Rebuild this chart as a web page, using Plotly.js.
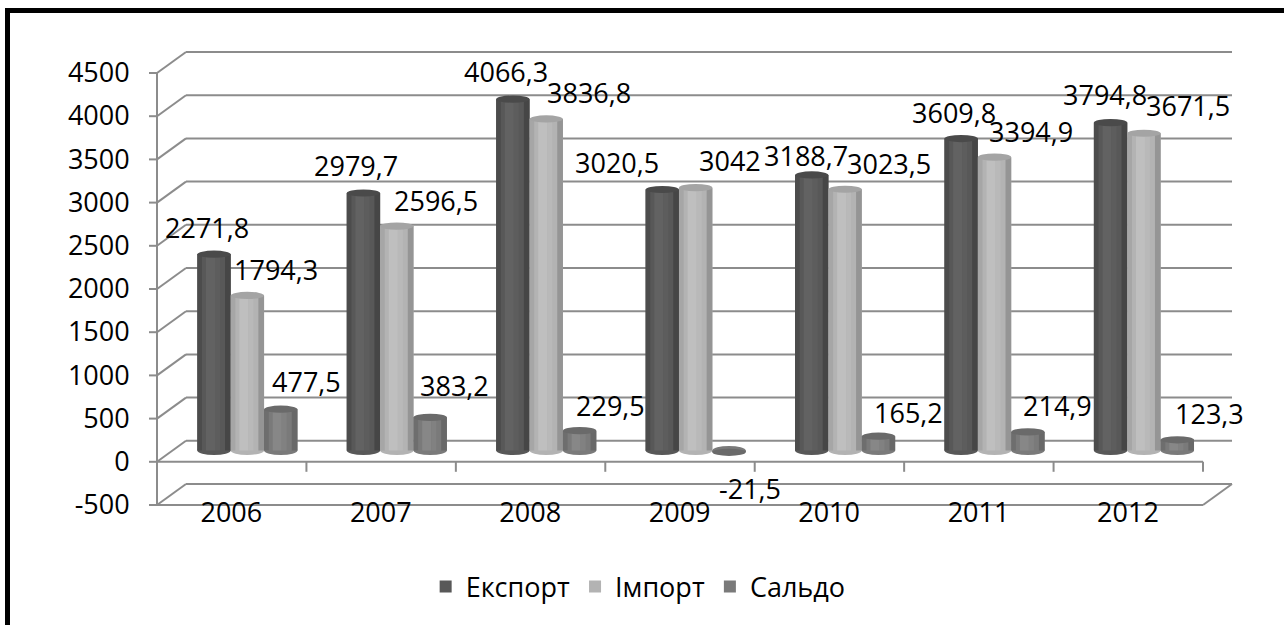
<!DOCTYPE html>
<html>
<head>
<meta charset="utf-8">
<script src="https://cdn.plot.ly/plotly-3.0.1.min.js"></script>
<style>
  html, body { margin: 0; padding: 0; background: #ffffff; }
  #chart { width: 1284px; height: 625px; }
</style>
</head>
<body>
<div id="chart"></div>
<script>
// ---------------- data ----------------
const years = ['2006', '2007', '2008', '2009', '2010', '2011', '2012'];
const exportVals = [2271.8, 2979.7, 4066.3, 3020.5, 3188.7, 3609.8, 3794.8];
const importVals = [1794.3, 2596.5, 3836.8, 3042, 3023.5, 3394.9, 3671.5];
const saldoVals  = [477.5, 383.2, 229.5, -21.5, 165.2, 214.9, 123.3];
const seriesNames = ['Експорт', 'Імпорт', 'Сальдо'];
const yTicks = [-500, 0, 500, 1000, 1500, 2000, 2500, 3000, 3500, 4000, 4500];
const yTickText = ['-500', '0', '500', '1000', '1500', '2000', '2500', '3000', '3500', '4000', '4500'];

// ---------------- style / layout constants ----------------
const W = 1284, H = 625;
const FX0 = 157, FX1 = 1203;   // front plane x pixels for category range
const FY0 = 505, FY1 = 73;     // front plane y pixels for value range
const YMIN = -500, YMAX = 4500;
const NCAT = years.length;
const DEPTH_X = 29, DEPTH_Y = 21; // back wall offset
const BAR_T = 0.54;               // depth of the bar plane (0 front, 1 back)
const GRID = '#8c8c8c';
const FONT = '"Open Sans", "Noto Sans", sans-serif';
const bodyColors = ['#585858', '#b3b3b3', '#7a7a7a'];
const capColors  = ['#4a4a4a', '#a4a4a4', '#6a6a6a'];
// cylinder shading strips: [from px, to px, colour] per series
const shade = [
  [[-16.7,-12,'#4c4c4c'],[-8,1,'#626262'],[1,6,'#5d5d5d'],[11,16.7,'#464646']],
  [[-16.7,-12,'#a6a6a6'],[-8,1,'#bfbfbf'],[1,6,'#b9b9b9'],[11,16.7,'#959595']],
  [[-16.7,-12,'#6e6e6e'],[-8,1,'#878787'],[1,6,'#818181'],[11,16.7,'#686868']]
];
const BARGAP = 0.33;
const barW = (1 - BARGAP) / 3;

// label offsets (pixels, right / down) relative to bar top centre
const labelOffsets = [
  [[-7,-25],[-7.5,-26],[-7,-25.5],[-45,-25],[-6,-17],[-7,-24],[-5.5,-26]],
  [[29,-24],[39.5,-24],[43,-24],[34,-25],[44,-24],[36,-24],[44,-25.5]],
  [[26,-26],[24,-30],[31,-23],[21,38],[30,-22],[30,-24.5],[32.5,-24]]
];

// map (category position, value, depth) -> paper coordinates
function P(cat, val, t) {
  const x = FX0 + (cat + 0.5) / NCAT * (FX1 - FX0) + t * DEPTH_X;
  const y = FY0 + (val - YMIN) / (YMAX - YMIN) * (FY1 - FY0) - t * DEPTH_Y;
  return [x / W, 1 - y / H];
}
function fmt(v) { return String(v).replace('.', ','); }

const allSeries = [exportVals, importVals, saldoVals];
const xIdx = years.map((_, i) => i);

// ---------------- traces ----------------
const traces = allSeries.map((vals, s) => ({
  type: 'bar',
  name: seriesNames[s],
  x: xIdx,
  y: vals,
  marker: { color: bodyColors[s], line: { width: 0 } },
  hoverinfo: 'skip'
}));

// ---------------- frame shapes ----------------
const shapes = [];
function seg(a, b, color, width) {
  shapes.push({ type: 'line', xref: 'paper', yref: 'paper', layer: 'below',
    x0: a[0], y0: a[1], x1: b[0], y1: b[1], line: { color: color || GRID, width: width || 2 } });
}
const catL = -0.5, catR = NCAT - 0.5;
yTicks.forEach(v => {
  seg(P(catL, v, 0), P(catL, v, 1));           // left wall diagonal
  seg(P(catL, v, 1), P(catR, v, 1));           // back wall gridline
  const f = P(catL, v, 0);
  seg([f[0] - 8 / W, f[1]], f);                // y tick mark
});
seg(P(catL, YMIN, 0), P(catL, YMAX, 0));       // front vertical axis
seg(P(catL, 0, 0), P(catR, 0, 0));             // floor front edge
seg(P(catL, YMIN, 0), P(catR, YMIN, 0));       // bottom front edge
seg(P(catR, YMIN, 0), P(catR, YMIN, 1));       // bottom right diagonal
for (let k = 0; k < NCAT; k++) {               // category boundary ticks
  const p = P(k + 0.5, 0, 0);
  seg(p, [p[0], p[1] - 10 / H]);
}
// outer black frame (top and left edges; the others fall outside the picture)
shapes.push({ type: 'line', xref: 'paper', yref: 'paper', layer: 'above',
  x0: 5 / W, x1: 1, y0: 1 - 10.5 / H, y1: 1 - 10.5 / H, line: { color: '#000000', width: 5 } });
shapes.push({ type: 'line', xref: 'paper', yref: 'paper', layer: 'above',
  x0: 7.5 / W, x1: 7.5 / W, y0: 0, y1: 1 - 8 / H, line: { color: '#000000', width: 5 } });

// cylinder shading and caps anchored to the data
allSeries.forEach((vals, s) => {
  const off = (s - 1) * barW;
  vals.forEach((v, i) => {
    shapes.push({ type: 'circle', xref: 'x', yref: 'y', xsizemode: 'pixel', ysizemode: 'pixel',
      xanchor: i + off, yanchor: 0, x0: -16.6, x1: 16.6, y0: -4.5, y1: 4.5,
      fillcolor: bodyColors[s], line: { width: 0 }, layer: 'below' });
    shade[s].forEach(st => {
      shapes.push({ type: 'rect', xref: 'x', yref: 'y', xsizemode: 'pixel',
        xanchor: i + off, x0: st[0], x1: st[1], y0: 0, y1: v,
        fillcolor: st[2], line: { width: 0 }, layer: 'above' });
    });
    shapes.push({ type: 'circle', xref: 'x', yref: 'y', xsizemode: 'pixel', ysizemode: 'pixel',
      xanchor: i + off, yanchor: v, x0: -16.6, x1: 16.6, y0: -3.6, y1: 3.6,
      fillcolor: capColors[s], line: { width: 0 }, layer: 'above' });
  });
});

// ---------------- data labels ----------------
const annotations = [];
allSeries.forEach((vals, s) => {
  const off = (s - 1) * barW;
  vals.forEach((v, i) => {
    const o = labelOffsets[s][i];
    annotations.push({ x: i + off, y: v, xref: 'x', yref: 'y', text: fmt(v), showarrow: false,
      xanchor: 'center', yanchor: 'middle', xshift: o[0], yshift: -o[1] + 2,
      font: { family: FONT, size: 27, color: '#000000' } });
  });
});

// ---------------- layout ----------------
const mid0 = P(catL, YMIN, BAR_T), mid1 = P(catR, YMAX, BAR_T);
const layout = {
  width: W, height: H,
  margin: { l: 0, r: 0, t: 0, b: 0 },
  paper_bgcolor: '#ffffff', plot_bgcolor: 'rgba(0,0,0,0)',
  barmode: 'group', bargap: BARGAP, bargroupgap: 0,
  showlegend: true,
  legend: { orientation: 'h', x: 0.497, xanchor: 'center', y: 1 - 587 / H, yanchor: 'middle',
    font: { family: FONT, size: 27, color: '#000000' }, traceorder: 'normal', itemclick: false },
  xaxis: {
    domain: [mid0[0], mid1[0]], range: [catL, catR],
    tickmode: 'array', tickvals: xIdx, ticktext: years,
    showgrid: false, zeroline: false, showline: false, ticks: '',
    ticklabelshift: -Math.round(BAR_T * DEPTH_X), ticklabelstandoff: 0,
    tickfont: { family: FONT, size: 27, color: '#000000' }, fixedrange: true
  },
  yaxis: {
    domain: [mid0[1], mid1[1]], range: [YMIN, YMAX],
    tickmode: 'array', tickvals: yTicks, ticktext: yTickText,
    showgrid: false, zeroline: false, showline: false, ticks: '',
    ticklabelshift: Math.round(BAR_T * DEPTH_Y), ticklabelstandoff: 42,
    tickfont: { family: FONT, size: 27, color: '#000000' }, fixedrange: true
  },
  shapes: shapes,
  annotations: annotations
};

Plotly.newPlot('chart', traces, layout, { displayModeBar: false, staticPlot: true });
</script>
</body>
</html>
